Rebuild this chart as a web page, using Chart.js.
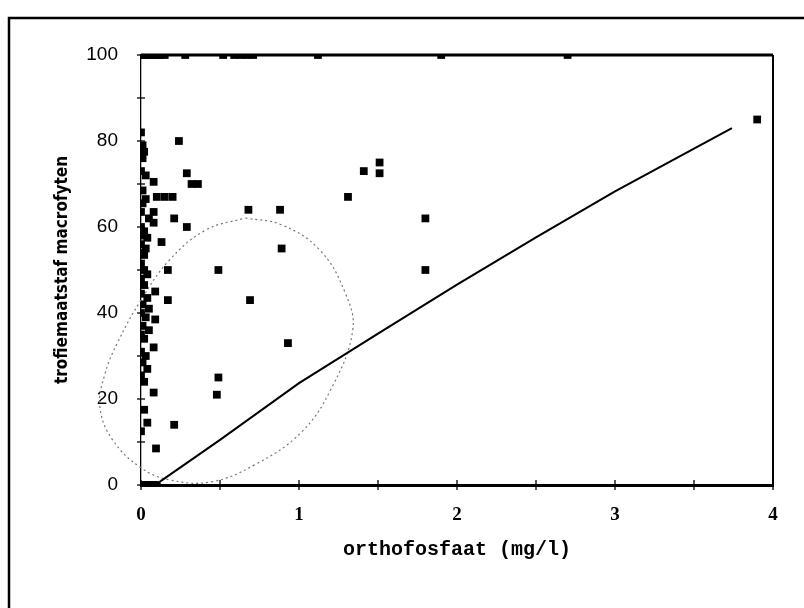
<!DOCTYPE html>
<html>
<head>
<meta charset="utf-8">
<script src="https://cdn.jsdelivr.net/npm/chart.js@4.4.1/dist/chart.umd.min.js"></script>
<style>
  html, body { margin: 0; background: #fff; }
</style>
</head>
<body>
<canvas id="chart" width="804" height="608"></canvas>
<script>
// measurements near the y axis and scattered ones
const pointX = [0.00, 0.01, 0.02, 0.01, 0.00, 0.03, 0.08, 0.01, 0.03, 0.01, 0.00, 0.08, 0.05, 0.08, 0.00, 0.02,
  0.00, 0.04, 0.13, 0.00, 0.03, 0.00, 0.02, 0.00, 0.02, 0.04, 0.00, 0.02, 0.09, 0.00, 0.04, 0.01, 0.05, 0.00,
  0.03, 0.09, 0.01, 0.05, 0.00, 0.02, 0.08, 0.00, 0.03, 0.01, 0.04, 0.00, 0.02, 0.08, 0.02, 0.04, 0.00, 0.095,
  0.24, 0.29, 0.32, 0.36, 0.10, 0.15, 0.20, 0.21, 0.29, 0.17, 0.17, 0.49, 0.68, 0.69, 0.88, 0.89, 0.93, 0.49,
  0.48, 0.21, 1.31, 1.41, 1.51, 1.51, 1.80, 1.80, 3.90];
const pointY = [82, 79, 77.5, 76, 73, 72, 70.5, 68.5, 66.5, 65.5, 63.5, 63.5, 62, 61, 60, 59,
  58, 57.5, 56.5, 56, 55, 54, 53.5, 51.5, 50, 49, 48, 46.5, 45, 44.5, 43.5, 42, 41, 40,
  39, 38.5, 37, 36, 35, 34, 32, 31, 30, 28.5, 27, 25.5, 24, 21.5, 17.5, 14.5, 12.5, 8.5,
  80, 72.5, 70, 70, 67, 67, 67, 62, 60, 50, 43, 50, 64, 43, 64, 55, 33, 25,
  21, 14, 67, 73, 75, 72.5, 62, 50, 85];

// points on the 100 line and on the 0 line
const topRowX = [0, 0.02, 0.04, 0.06, 0.08, 0.1, 0.12, 0.15, 0.28, 0.52, 0.59, 0.63, 0.67, 0.71, 1.12, 1.9, 2.7];
const zeroRowX = [0, 0.02, 0.04, 0.06, 0.08, 0.1];

// fitted line
const trendX = [0.12, 0.5, 1.0, 1.5, 2.0, 2.5, 3.0, 3.5, 3.74];
const trendY = [0.8, 10.5, 23.7, 35.2, 46.6, 57.6, 68.3, 78.2, 83];

// dotted hand drawn contour
const contourX = [0.66, 0.89, 1.13, 1.29, 1.34, 1.20, 1.01, 0.72, 0.44, 0.18, 0.0, -0.18, -0.26, -0.23, -0.15, 0.0, 0.18, 0.41, 0.66];
const contourY = [62.1, 60.5, 54.7, 44.9, 36, 22.1, 12.1, 4.7, 0.7, 1.2, 4, 10.5, 18.1, 25.6, 33, 43, 52.3, 59.3, 62.1];

const yMarks = [0, 10, 20, 30, 40, 50, 60, 70, 80, 90, 100];
const xMarks = [0, 0.5, 1, 1.5, 2, 2.5, 3, 3.5, 4];

const points = pointX.map((x, i) => ({ x, y: pointY[i] }))
  .concat(topRowX.map(x => ({ x, y: 100 })))
  .concat(zeroRowX.map(x => ({ x, y: 0 })));

const framePlugin = {
  id: "frame",
  beforeDraw(chart) {
    const ctx = chart.ctx;
    ctx.save();
    ctx.strokeStyle = "#000";
    ctx.lineWidth = 2.5;
    ctx.beginPath();
    ctx.moveTo(9, 608);
    ctx.lineTo(9, 18);
    ctx.lineTo(804, 18);
    ctx.stroke();
    ctx.restore();
  },
  beforeDatasetsDraw(chart) {
    const { ctx, scales: { x, y } } = chart;
    ctx.save();
    ctx.strokeStyle = "#000";
    ctx.lineWidth = 3;
    ctx.beginPath();
    ctx.moveTo(x.getPixelForValue(0), y.getPixelForValue(100));
    ctx.lineTo(x.getPixelForValue(4), y.getPixelForValue(100));
    ctx.stroke();
    ctx.lineWidth = 2;
    ctx.beginPath();
    ctx.moveTo(x.getPixelForValue(4), y.getPixelForValue(100));
    ctx.lineTo(x.getPixelForValue(4), y.getPixelForValue(0));
    ctx.stroke();
    ctx.lineWidth = 1.3;
    const x0 = x.getPixelForValue(0);
    yMarks.forEach(v => {
      const py = y.getPixelForValue(v);
      ctx.beginPath();
      ctx.moveTo(x0 - 4, py);
      ctx.lineTo(x0 + 4, py);
      ctx.stroke();
    });
    const y0 = y.getPixelForValue(0);
    xMarks.forEach(v => {
      const px = x.getPixelForValue(v);
      ctx.beginPath();
      ctx.moveTo(px, y0 - 5);
      ctx.lineTo(px, y0 + 5);
      ctx.stroke();
    });
    ctx.restore();
  }
};

new Chart(document.getElementById("chart"), {
  type: "scatter",
  data: {
    datasets: [
      {
        data: points,
        pointStyle: "rect",
        pointRadius: 5.5,
        pointBackgroundColor: "#000",
        pointBorderWidth: 0,
        showLine: false
      },
      {
        data: trendX.map((x, i) => ({ x, y: trendY[i] })),
        showLine: true,
        borderColor: "#000",
        borderWidth: 2,
        pointRadius: 0,
        tension: 0
      },
      {
        data: contourX.map((x, i) => ({ x, y: contourY[i] })),
        showLine: true,
        borderColor: "#777",
        borderWidth: 1.2,
        borderDash: [2, 3],
        pointRadius: 0,
        tension: 0.4,
        clip: false
      }
    ]
  },
  options: {
    responsive: false,
    animation: false,
    events: [],
    layout: { padding: { left: 52, top: 55, right: 31, bottom: 46 } },
    plugins: { legend: { display: false }, tooltip: { enabled: false } },
    scales: {
      x: {
        type: "linear",
        min: 0,
        max: 4,
        afterFit: s => { s.height = 77; },
        grid: { display: false, drawTicks: false },
        border: { display: true, color: "#000", width: 3 },
        ticks: { stepSize: 1, padding: 19, color: "#000", font: { family: "Liberation Serif", size: 19, weight: "bold" } },
        title: {
          display: true,
          text: "orthofosfaat (mg/l)",
          color: "#000",
          padding: 0,
          font: { family: "Liberation Mono", size: 20, weight: "bold" }
        }
      },
      y: {
        type: "linear",
        min: 0,
        max: 100,
        afterFit: s => { s.width = 89; },
        grid: { display: false, drawTicks: false },
        border: { display: true, color: "#000", width: 1.3, dash: [6, 2] },
        ticks: { stepSize: 20, padding: 23, color: "#000", font: { family: "Liberation Sans", size: 19 } },
        title: {
          display: true,
          text: "trofiemaatstaf macrofyten",
          color: "#000",
          padding: 0,
          font: { family: "DejaVu Sans Condensed", size: 17, weight: "bold" }
        }
      }
    }
  },
  plugins: [framePlugin]
});
</script>
</body>
</html>
